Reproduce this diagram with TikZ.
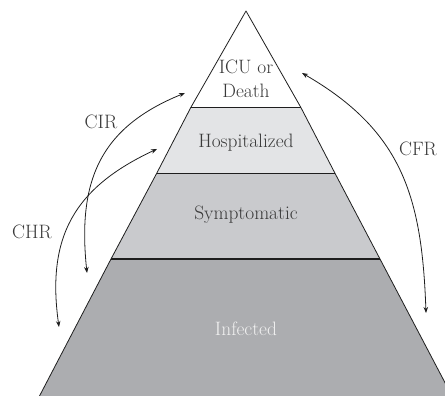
\documentclass[tikz,border=0pt]{standalone}
\usetikzlibrary{arrows.meta}
\definecolor{hospfill}{HTML}{E3E4E6}
\definecolor{sympfill}{HTML}{C9CACD}
\definecolor{inffill}{HTML}{ACADB0}
\definecolor{edge}{HTML}{1E1E1E}
\definecolor{labeltext}{HTML}{3A3A3A}
\tikzset{
  tier/.style={draw=edge, line width=0.8pt, line join=round},
  divider/.style={draw=edge, line width=1.2pt},
  tierlabel/.style={anchor=base, text=labeltext, font=\fontsize{19.4}{23}\selectfont, inner sep=0pt},
  ratelabel/.style={anchor=base, text=labeltext, font=\fontsize{19.4}{23}\selectfont, inner sep=0pt},
  ratearrow/.style={draw=edge, line width=0.8pt, {Stealth[length=6pt,width=4.5pt]}-{Stealth[length=6pt,width=4.5pt]}}
}
\begin{document}
\begin{tikzpicture}[x=1pt,y=1pt]
\useasboundingbox (0,0) rectangle (445,396);
\clip (0,0) rectangle (445,396);
% corner points of the tiers
\coordinate (apex) at (246,385);
\coordinate (l1) at (190.7,288.3); \coordinate (r1) at (301,288.3);
\coordinate (l2) at (156.7,222.7); \coordinate (r2) at (335,222.7);
\coordinate (l3) at (111,137);     \coordinate (r3) at (380,137);
\coordinate (l4) at (39.5,0);      \coordinate (r4) at (452,0);
% tiers
\path[fill=white]    (apex) -- (r1) -- (l1) -- cycle;
\path[fill=hospfill] (l1) -- (r1) -- (r2) -- (l2) -- cycle;
\path[fill=sympfill] (l2) -- (r2) -- (r3) -- (l3) -- cycle;
\path[fill=inffill]  (l3) -- (r3) -- (r4) -- (l4) -- cycle;
\draw[tier] (l4) -- (l3) -- (l2) -- (l1) -- (apex) -- (r1) -- (r2) -- (r3) -- (r4);
\draw[divider] (l1) -- (r1);
\draw[divider] (l2) -- (r2);
\draw[divider] (l3) -- (r3);
% tier labels
\node[tierlabel] (icu) at (246,322) {ICU or};
\node[tierlabel] (death) at (246,298) {Death};
\node[tierlabel] (hosp) at (246,248) {Hospitalized};
\node[tierlabel] (symp) at (246,176) {Symptomatic};
\node[tierlabel, text=white!94!black] (inf) at (246,60) {Infected};
% rate labels
\node[ratelabel] (cir) at (101,267) {CIR};
\node[ratelabel] (chr) at (32,157) {CHR};
\node[ratelabel] (cfr) at (418,240) {CFR};
% arrow end points
\coordinate (cirTop) at (185,303); \coordinate (cirBot) at (87,123);
\coordinate (chrTop) at (157,247); \coordinate (chrBot) at (59,69);
\coordinate (cfrTop) at (302,323); \coordinate (cfrBot) at (426,83);
% rate arrows
\draw[ratearrow] (cirTop) to[out=202, in=96, looseness=1.15] (cirBot);
\draw[ratearrow] (chrTop) to[out=205, in=98, looseness=1.15] (chrBot);
\draw[ratearrow] (cfrTop) to[out=-30, in=92, looseness=1.1] (cfrBot);
\end{tikzpicture}
\end{document}
